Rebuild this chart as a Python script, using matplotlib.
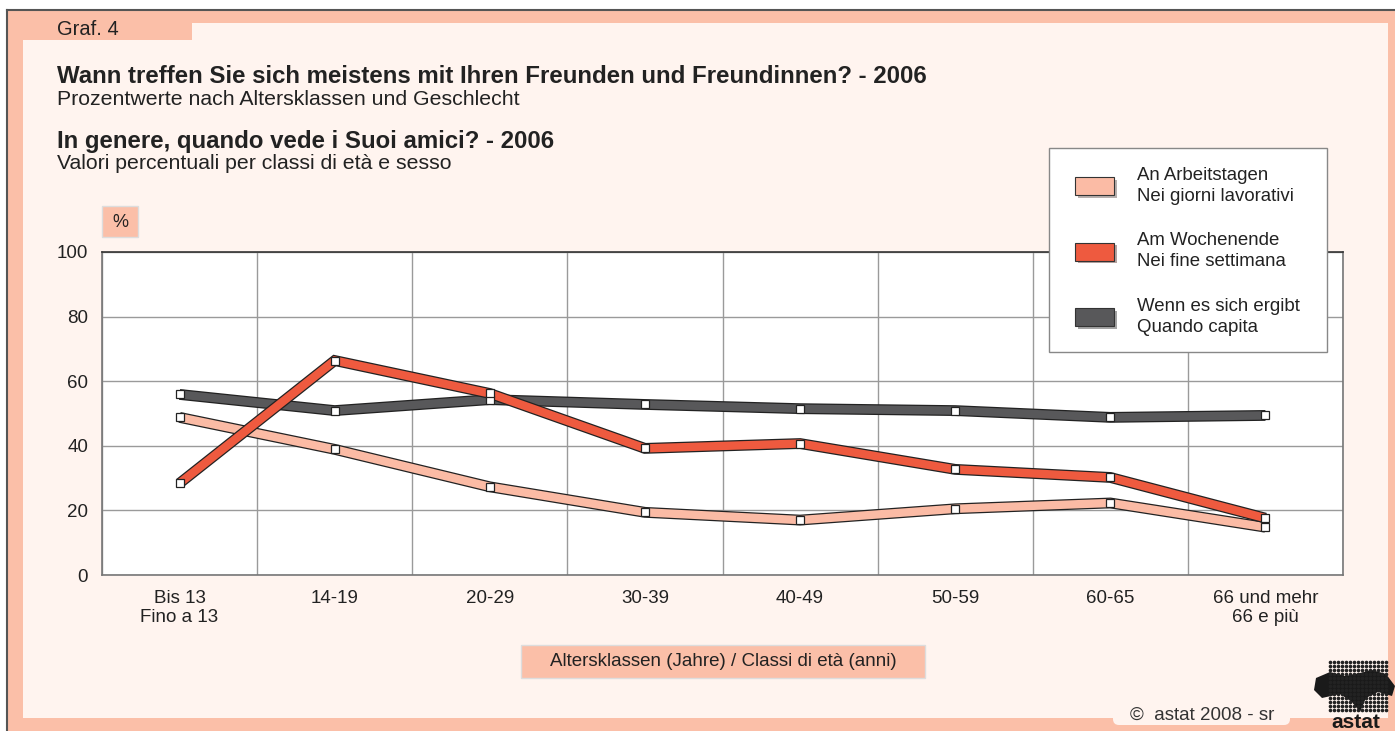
import numpy as np
import matplotlib
matplotlib.use("Agg")
import matplotlib.pyplot as plt
import matplotlib.patheffects as pe
from matplotlib.patches import Rectangle, Patch, FancyBboxPatch
from matplotlib.transforms import IdentityTransform

plt.rcParams['font.family'] = ['Liberation Sans', 'DejaVu Sans']

# ---------------------- data --------------------------------------------
categories = ["Bis 13\nFino a 13", "14-19", "20-29", "30-39", "40-49",
              "50-59", "60-65", "66 und mehr\n66 e più"]
arbeitstage = [48.8, 38.9, 27.3, 19.4, 17.0, 20.5, 22.3, 14.8]
wochenende = [28.4, 66.4, 56.2, 39.2, 40.7, 32.7, 30.2, 17.6]
wenn_ergibt = [55.9, 50.9, 54.3, 52.8, 51.5, 50.9, 48.8, 49.4]

labels = ["An Arbeitstagen\nNei giorni lavorativi",
          "Am Wochenende\nNei fine settimana",
          "Wenn es sich ergibt\nQuando capita"]
colors = ["#FBBBA5", "#EE5A3F", "#58585A"]

yticks = [0, 20, 40, 60, 80, 100]

# ---------------------- figure ------------------------------------------
W, H = 1395, 731
fig = plt.figure(figsize=(W / 100, H / 100), dpi=100)
fig.patch.set_facecolor("white")


def fx(x):
    return x / W


def fy(y):
    return 1 - y / H


def rect(x0, y0, x1, y1, **kw):
    r = Rectangle((fx(x0), fy(y1)), (x1 - x0) / W, (y1 - y0) / H,
                  transform=fig.transFigure, **kw)
    fig.add_artist(r)
    return r


def rbox(x0, y0, x1, y1, r, **kw):
    # rounded box in pixel coordinates (top-left origin)
    b = FancyBboxPatch((x0, H - y1), x1 - x0, y1 - y0,
                       boxstyle="round,pad=0,rounding_size=%g" % r,
                       transform=IdentityTransform(), **kw)
    fig.add_artist(b)
    return b


salmon = "#FBBFA8"
light = "#FFF4EF"
txt = "#222222"

# frame
rect(7, 10, W, H, facecolor=salmon, edgecolor="none", zorder=-10)
rect(23, 40, 1388, 718, facecolor=light, edgecolor="none", zorder=-9)
rect(192, 23, 1388, 718, facecolor=light, edgecolor="none", zorder=-9)
rbox(7, 10, 192, 40, 7, facecolor=salmon, edgecolor="none", zorder=-8.5)
fig.add_artist(plt.Line2D([fx(7), fx(W)], [fy(10), fy(10)], color="#555555",
                          lw=1.5, transform=fig.transFigure, zorder=-8))
fig.add_artist(plt.Line2D([fx(7), fx(7)], [fy(10), fy(H)], color="#555555",
                          lw=1.5, transform=fig.transFigure, zorder=-8))

# titles
fig.text(fx(57), fy(35), "Graf. 4", fontsize=14.5, color=txt)
fig.text(fx(57), fy(83), "Wann treffen Sie sich meistens mit Ihren Freunden und Freundinnen? - 2006",
         fontsize=17.3, fontweight="bold", color=txt)
fig.text(fx(57), fy(105), "Prozentwerte nach Altersklassen und Geschlecht",
         fontsize=15.3, color=txt)
fig.text(fx(57), fy(148), "In genere, quando vede i Suoi amici? - 2006",
         fontsize=17.3, fontweight="bold", color=txt)
fig.text(fx(57), fy(169), "Valori percentuali per classi di età e sesso",
         fontsize=15.3, color=txt)

# % box
rect(102, 206, 138, 237, facecolor=salmon, edgecolor="#dddddd", lw=1)
fig.text(fx(120), fy(223), "%", fontsize=13, color=txt, ha="center", va="center")

# x label box
rect(521, 645, 925, 678, facecolor=salmon, edgecolor="#dddddd", lw=1)
fig.text(fx(723), fy(662), "Altersklassen (Jahre) / Classi di età (anni)",
         fontsize=13.5, color=txt, ha="center", va="center")

# copyright
rbox(1113, 700, 1290, 725, 6, facecolor=light, edgecolor="none", zorder=-8)
fig.text(fx(1202), fy(715), "©  astat 2008 - sr", fontsize=13.5, color="#333333",
         ha="center", va="center")

# logo (approximation)
gx, gy = np.meshgrid(np.arange(1330, 1388, 4), np.arange(662, 712, 4))
fig.add_artist(plt.Line2D(fx(gx.ravel()), fy(gy.ravel()), ls="none", marker="o",
                          ms=1.6, color="#222222", transform=fig.transFigure))
blob_x = [1316, 1330, 1345, 1360, 1372, 1386, 1395, 1392, 1378, 1366, 1360, 1352, 1340, 1322, 1314]
blob_y = [678, 672, 676, 673, 670, 674, 686, 696, 692, 698, 712, 702, 694, 698, 690]
fig.add_artist(plt.Polygon(np.column_stack([fx(np.array(blob_x)), fy(np.array(blob_y))]),
                           closed=True, facecolor="#1a1a1a", edgecolor="none",
                           transform=fig.transFigure))
fig.text(fx(1356), fy(722), "astat", fontsize=15, fontweight="bold", color="#1a1a1a",
         ha="center", va="center")

# ---------------------- axes --------------------------------------------
ax = fig.add_axes([fx(102), fy(575), (1343 - 102) / W, (575 - 252) / H])
ax.set_facecolor("white")
x = np.arange(len(categories))

for vals, c in zip([arbeitstage, wenn_ergibt, wochenende], [colors[0], colors[2], colors[1]]):
    ax.plot(x, vals, color=c, lw=6, solid_joinstyle="miter", solid_capstyle="butt",
            path_effects=[pe.Stroke(linewidth=7.8, foreground="#222222"), pe.Normal()],
            zorder=3)
    ax.plot(x, vals, ls="none", marker="s", ms=5.5, mfc="white", mec="#222222", mew=0.9,
            zorder=4)

ax.set_xlim(-0.5, len(categories) - 0.5)
ax.set_ylim(0, 100)
ax.set_yticks(yticks)
ax.set_xticks(x)
ax.set_xticklabels(categories, fontsize=13.5, color=txt, linespacing=1.1)
ax.set_yticklabels([str(v) for v in yticks], fontsize=13.5, color=txt)
ax.tick_params(length=0, pad=10)
ax.tick_params(axis="x", pad=11)
ax.set_xticks(np.arange(-0.5, len(categories)), minor=True)
ax.tick_params(which="minor", length=0)
ax.grid(which="minor", axis="x", color="#9a9a9a", lw=1)
ax.grid(which="major", axis="y", color="#9a9a9a", lw=1)
ax.grid(which="major", axis="x", visible=False)
ax.set_axisbelow(True)
for s in ["bottom", "right", "left"]:
    ax.spines[s].set_color("#777777")
ax.spines["top"].set_color("#333333")
for s in ax.spines.values():
    s.set_linewidth(1.2)

# legend (frame drawn separately)
rect(1049, 148, 1327, 352, facecolor="white", edgecolor="#888888", lw=1, zorder=5)
handles = [Patch(facecolor=c, edgecolor="#333333", lw=0.8,
                 path_effects=[pe.SimplePatchShadow(offset=(2, -2), alpha=0.4), pe.Normal()])
           for c in colors]
leg = fig.legend(handles, labels, loc="upper left",
                 bbox_to_anchor=(fx(1075), fy(167)), fontsize=13.4,
                 frameon=False, handlelength=2.1, handleheight=1.1, handletextpad=1.25,
                 labelspacing=1.48, borderpad=0, borderaxespad=0)
leg.set_zorder(6)
for t in leg.get_texts():
    t.set_color(txt)
    t.set_linespacing(1.3)

fig.savefig("out.png", dpi=100, facecolor=fig.get_facecolor())
